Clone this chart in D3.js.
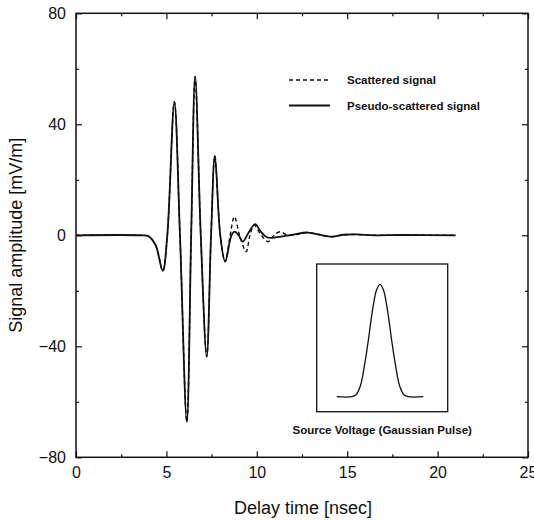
<!DOCTYPE html>
<html>
<head>
<meta charset="utf-8">
<script src="https://cdn.jsdelivr.net/npm/d3@7"></script>
<style>
  body { margin: 0; background: #fff; }
  svg text { font-family: "Liberation Sans", Arial, sans-serif; fill: #111; }
</style>
</head>
<body>
<div id="chart"><svg></svg></div>
<script>
// pseudo-scattered signal [time ns, amplitude mV/m]
const pseudoSignal = [
  [0, 0], [3.6, 0], [4.0, -0.3], [4.4, -3.5], [4.8, -12.8], [5.05, 0],
  [5.44, 48.1], [5.75, 0], [6.13, -67.2], [6.37, 0], [6.59, 57.2],
  [6.9, 0], [7.23, -43.7], [7.47, 0], [7.68, 28.6], [7.98, 0],
  [8.25, -9.5], [8.6, 0], [8.78, 1.3], [9.0, 0], [9.22, -2.3],
  [9.55, 1.0], [9.91, 4.0], [10.2, 1.5], [10.55, -0.7], [11.0, -0.8],
  [11.5, -0.3], [12.0, 0.2], [12.8, 1.0], [13.4, 0.3], [14.15, -0.5],
  [14.8, 0.2], [15.5, 0.3], [16.5, 0], [18, 0.1], [21, 0]
];

// scattered signal (same as above until ~8.3 ns)
const scatteredSignal = [
  [0, 0], [3.6, 0], [4.0, -0.3], [4.4, -3.5], [4.8, -12.8], [5.05, 0],
  [5.44, 48.1], [5.75, 0], [6.13, -67.2], [6.37, 0], [6.59, 57.2],
  [6.9, 0], [7.23, -43.7], [7.47, 0], [7.68, 28.6], [7.98, 0],
  [8.25, -9.5], [8.5, -1.0], [8.76, 6.7], [9.05, 0], [9.41, -5.9],
  [9.62, 0], [9.85, 3.7], [10.2, 0.5], [10.63, -2.3], [10.95, 0],
  [11.29, 1.3], [11.7, 0], [12.2, 0.3], [12.8, 1.0], [13.4, 0.3],
  [14.15, -0.5], [14.8, 0.2], [15.5, 0.3], [16.5, 0], [18, 0.1], [21, 0]
];

// source voltage (gaussian pulse), normalised
const pulse = [
  [0, 0], [0.35, 0], [0.45, 0.02], [0.55, 0.1], [0.65, 0.3], [0.73, 0.5],
  [0.82, 0.75], [0.92, 0.95], [1.0, 1.0], [1.08, 0.95], [1.18, 0.75],
  [1.27, 0.5], [1.35, 0.3], [1.45, 0.1], [1.55, 0.02], [1.65, 0], [2, 0]
];

const xTicks = [0, 5, 10, 15, 20, 25];
const xMinor = [2.5, 7.5, 12.5, 17.5, 22.5];
const yTicks = [-80, -40, 0, 40, 80];
const yMinor = [-60, -20, 20, 60];
const legendLabels = ["Scattered signal", "Pseudo-scattered signal"];

document.addEventListener("DOMContentLoaded", function () {
  const W = 534, H = 520;
  const margin = { top: 13.3, right: 6, bottom: 62.7, left: 76 };
  const width = W - margin.left - margin.right,
    height = H - margin.top - margin.bottom;

  const svg = d3.select("#chart svg").attr("width", W).attr("height", H);
  const g = svg.append("g")
    .attr("transform", `translate(${margin.left},${margin.top})`);

  const x = d3.scaleLinear().domain([0, 25]).range([0, width]);
  const y = d3.scaleLinear().domain([-80, 80]).range([height, 0]);

  // axes, ticks pointing inward on all four sides
  function styleAxis(sel) {
    sel.select(".domain").remove();
    sel.selectAll(".tick line").attr("stroke", "#111").attr("stroke-width", 1.2);
    sel.selectAll("text").style("font-size", "16px").attr("fill", "#111");
  }
  g.append("g").attr("transform", `translate(0,${height})`)
    .call(d3.axisBottom(x).tickValues(xTicks).tickSizeInner(-6).tickSizeOuter(0).tickPadding(9))
    .call(styleAxis);
  g.append("g").attr("transform", `translate(0,${height})`)
    .call(d3.axisBottom(x).tickValues(xMinor).tickSize(-3).tickFormat(""))
    .call(styleAxis);
  g.append("g")
    .call(d3.axisTop(x).tickValues(xTicks).tickSize(-6).tickFormat(""))
    .call(styleAxis);
  g.append("g")
    .call(d3.axisTop(x).tickValues(xMinor).tickSize(-3).tickFormat(""))
    .call(styleAxis);
  g.append("g")
    .call(d3.axisLeft(y).tickValues(yTicks).tickSizeInner(-6).tickSizeOuter(0).tickPadding(10))
    .call(styleAxis);
  g.append("g")
    .call(d3.axisLeft(y).tickValues(yMinor).tickSize(-3).tickFormat(""))
    .call(styleAxis);
  g.append("g").attr("transform", `translate(${width},0)`)
    .call(d3.axisRight(y).tickValues(yTicks).tickSize(-6).tickFormat(""))
    .call(styleAxis);
  g.append("g").attr("transform", `translate(${width},0)`)
    .call(d3.axisRight(y).tickValues(yMinor).tickSize(-3).tickFormat(""))
    .call(styleAxis);

  g.append("rect")
    .attr("width", width).attr("height", height)
    .attr("fill", "none").attr("stroke", "#111").attr("stroke-width", 1.5);

  const line = d3.line()
    .x((d) => x(d[0]))
    .y((d) => y(d[1]))
    .curve(d3.curveCatmullRom.alpha(0.5));

  g.append("path")
    .datum(scatteredSignal)
    .attr("d", line)
    .attr("fill", "none")
    .attr("stroke", "#111")
    .attr("stroke-width", 1.4)
    .attr("stroke-dasharray", "4,3");

  g.append("path")
    .datum(pseudoSignal)
    .attr("d", line)
    .attr("fill", "none")
    .attr("stroke", "#111")
    .attr("stroke-width", 1.8);

  // legend
  const legend = g.selectAll(".legend")
    .data(legendLabels)
    .enter()
    .append("g")
    .attr("class", "legend")
    .attr("transform", (d, i) => `translate(213,${66.7 + i * 25.5})`);
  legend.append("line")
    .attr("x1", 0).attr("x2", 41)
    .attr("stroke", "#111")
    .attr("stroke-width", (d, i) => (i ? 1.8 : 1.4))
    .attr("stroke-dasharray", (d, i) => (i ? null : "4,3"));
  legend.append("text")
    .attr("x", 58)
    .attr("dy", "0.35em")
    .style("font-size", "11.5px")
    .style("font-weight", "bold")
    .text((d) => d);

  // axis titles
  g.append("text")
    .attr("x", width / 2 + 1)
    .attr("y", height + 57)
    .style("text-anchor", "middle")
    .style("font-size", "18px")
    .text("Delay time [nsec]");
  g.append("text")
    .attr("transform", "rotate(-90)")
    .attr("x", -(y(0)))
    .attr("y", -60)
    .attr("dy", "0.35em")
    .style("text-anchor", "middle")
    .style("font-size", "18px")
    .text("Signal amplitude [mV/m]");

  // inset: source voltage
  const inset = svg.append("g").attr("transform", "translate(316.7,264)");
  const iw = 131, ih = 147.7;
  inset.append("rect")
    .attr("width", iw).attr("height", ih)
    .attr("fill", "#fff").attr("stroke", "#111").attr("stroke-width", 1.3);
  const px = d3.scaleLinear().domain([0, 2]).range([20, 106.6]);
  const py = d3.scaleLinear().domain([0, 1]).range([132.7, 20.3]);
  inset.append("path")
    .datum(pulse)
    .attr("d", d3.line().x((d) => px(d[0])).y((d) => py(d[1])).curve(d3.curveCatmullRom))
    .attr("fill", "none")
    .attr("stroke", "#111")
    .attr("stroke-width", 1.3);
  inset.append("text")
    .attr("x", iw / 2)
    .attr("y", ih + 18)
    .attr("dy", "0.35em")
    .style("text-anchor", "middle")
    .style("font-size", "11.5px")
    .style("font-weight", "bold")
    .text("Source Voltage (Gaussian Pulse)");
});
</script>
</body>
</html>
